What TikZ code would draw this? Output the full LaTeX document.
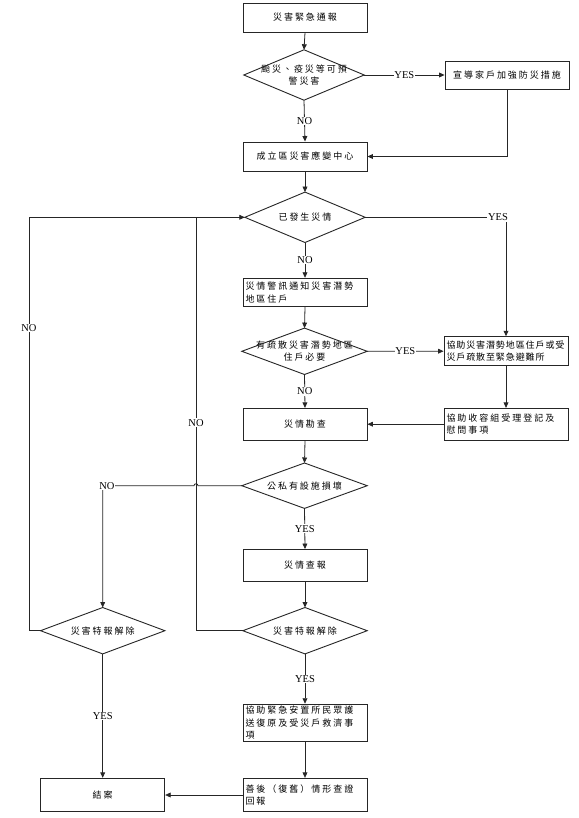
\documentclass[tikz,border=0pt]{standalone}
\usepackage{fontspec}
\setmainfont{Liberation Serif}
\newfontfamily\cjk[LetterSpace=22]{Noto Sans CJK TC}
\newfontfamily\cjkn[LetterSpace=10]{Noto Sans CJK TC}
\usetikzlibrary{arrows.meta,calc}
\begin{document}
\begin{tikzpicture}[x=1pt,y=-1pt,
  every node/.style={inner sep=0pt},
  ln/.style={draw=black!85,line width=0.8pt},
  arr/.style={ln,-{Triangle[length=5.5pt,width=4.8pt]}},
  bx/.style={draw=black!85,line width=0.9pt,minimum width=124pt,font=\cjk\fontsize{9}{12.5}\selectfont,align=center},
  bxl/.style={bx,text width=119pt,align=left,inner xsep=2.5pt},
  dia/.style={minimum width=120pt,minimum height=50pt,font=\cjk\fontsize{9}{12.5}\selectfont,align=center},
  lab/.style={font=\fontsize{10.5}{12}\selectfont,fill=white,inner sep=0.8pt}
]
\useasboundingbox (0,0) rectangle (578,818);
\fill[white] (0,0) rectangle (578,818);

\coordinate (lx) at (29,0);
\coordinate (mx) at (196,0);

% nodes
\node[bx,minimum height=29pt] (n1) at (305,17.5) {災害緊急通報};
\node[dia] (d1) at (304,75) {颱災、疫災等可預\\警災害};
\node[bx,minimum height=28pt] (r1) at (507,75) {宣導家戶加強防災措施};
\node[bx,minimum height=29pt] (n2) at (305,156.5) {成立區災害應變中心};
\node[dia] (d2) at (305,217.3) {已發生災情};
\node[bxl,minimum height=28.5pt] (n3) at (305,292.5) {災情警訊通知災害潛勢\\地區住戶};
\node[dia,minimum width=125pt,minimum height=46pt] (d3) at (304.5,351.3) {有疏散災害潛勢地區\\住戶必要};
\node[bxl,minimum height=29pt,font=\cjkn\fontsize{9}{12.5}\selectfont] (r2) at (506,351.2) {協助災害潛勢地區住戶或受\\災戶疏散至緊急避難所};
\node[bx,minimum height=31.7pt] (n4) at (305,424.2) {災情勘查};
\node[bxl,minimum height=31.7pt] (r3) at (506,424.2) {協助收容組受理登記及\\慰問事項};
\node[dia,minimum width=125pt,minimum height=45pt] (d4) at (304.5,485.7) {公私有設施損壞};
\node[bx,minimum height=32pt] (n5) at (305,565.5) {災情查報};
\node[dia,minimum width=124pt,minimum height=46pt] (d5) at (305,630.7) {災害特報解除};
\node[dia,minimum width=124pt,minimum height=46pt] (d6) at (102.7,630.7) {災害特報解除};
\node[bxl,minimum height=37pt] (n6) at (305,722.7) {協助緊急安置所民眾護\\送復原及受災戶救濟事\\項};
\node[bxl,minimum height=33.4pt] (n7) at (305,795) {善後（復舊）情形查證\\回報};
\node[bx,minimum height=33.4pt] (e1) at (102.7,795) {結案};

% diamond outlines
\foreach \d in {d1,d2,d3,d4,d5,d6}
  \draw[draw=black!85,line width=0.9pt] (\d.north) -- (\d.east) -- (\d.south) -- (\d.west) -- cycle;

% connectors
\draw[arr] (n1.south) -- (d1.north);
\draw[arr] (d1.east) -- node[lab]{YES} (r1.west);
\draw[arr] (d1.south) -- node[lab]{NO} (n2.north);
\draw[arr] (r1.south) |- (n2.east);
\draw[arr] (n2.south) -- (d2.north);
\draw[arr] (d2.east) -| node[lab,pos=0.5,xshift=-8pt]{YES} (r2.north);
\draw[arr] (d2.south) -- node[lab]{NO} (n3.north);
\draw[arr] (n3.south) -- (d3.north);
\draw[arr] (d3.east) -- node[lab]{YES} (r2.west);
\draw[arr] (d3.south) -- node[lab]{NO} (n4.north);
\draw[arr] (r2.south) -- (r3.north);
\draw[arr] (r3.west) -- (n4.east);
\draw[arr] (n4.south) -- (d4.north);
\draw[arr] (d4.west) -- ($(mx |- d4.west)+(2,0)$) .. controls +(0,-2.6) and +(0,-2.6) .. ($(mx |- d4.west)+(-2,0)$) -| (d6.north);
\draw[arr] (d4.south) -- node[lab]{YES} (n5.north);
\draw[arr] (n5.south) -- (d5.north);
\draw[ln] (d5.west) -| (mx |- d2.west);
\draw[arr] (d6.west) -| (lx |- d2.west) -- (d2.west);
\draw[arr] (d5.south) -- node[lab]{YES} (n6.north);
\draw[arr] (d6.south) -- node[lab]{YES} (e1.north);
\draw[arr] (n6.south) -- (n7.north);
\draw[arr] (n7.west) -- (e1.east);

% labels on long lines
\node[lab] at (107,485.7) {NO};
\node[lab] at (29,328) {NO};
\node[lab] at (196,422.7) {NO};
\end{tikzpicture}
\end{document}
